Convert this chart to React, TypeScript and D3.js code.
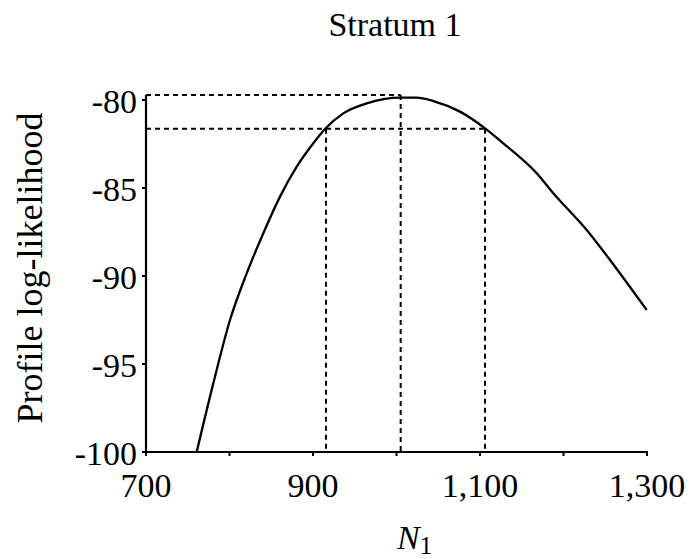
import * as d3 from 'd3'

// profile log-likelihood
const nValues = [760.7, 780.6, 800.6, 820.6, 840.5, 860.5, 880.5, 900.4, 915.2, 936.3, 964.3, 1004.2, 1024.2, 1044.1, 1076, 1106, 1127.9, 1167.9, 1187.8, 1227.8, 1255.7, 1299.6]
const logLik = [-100, -96.1, -92.5, -89.85, -87.57, -85.49, -83.79, -82.46, -81.61, -80.76, -80.19, -79.87, -79.87, -80.06, -80.66, -81.61, -82.46, -84.16, -85.3, -87.39, -89.09, -91.93]

const maxN = 1005
const maxLik = -79.72
const ciLow = 915.6
const ciHigh = 1106
const ciLik = -81.64

const xMajor = [700, 900, 1100, 1300]
const xMinor = [800, 1000, 1200]
const yTicks = [-100, -95, -90, -85, -80]

const W = 692
const H = 559
const FONT = '"Liberation Serif", "Times New Roman", serif'

export default function App() {
  const x = d3.scaleLinear().domain([700, 1300]).range([146, 647])
  const y = d3.scaleLinear().domain([-100, -80]).range([452, 100])
  const fmt = d3.format(',')

  const pts = nValues.map((n, i) => [n, logLik[i]] as [number, number])
  const line = d3.line<[number, number]>()
    .x(d => x(d[0]))
    .y(d => y(d[1]))
    .curve(d3.curveMonotoneX)

  const dash = { stroke: '#000', strokeWidth: 2, strokeDasharray: '5,4', fill: 'none' }
  const x0 = x(700)
  const yBottom = y(-100)

  return (
    <svg width={W} height={H} style={{ position: 'absolute', left: 0, top: 0, background: '#fff' }} fontFamily={FONT}>
      <text x={395} y={36} textAnchor="middle" fontSize={34}>Stratum 1</text>

      {/* reference lines */}
      <line x1={x0} x2={x(maxN)} y1={y(maxLik)} y2={y(maxLik)} {...dash} />
      <line x1={x0} x2={x(ciHigh)} y1={y(ciLik)} y2={y(ciLik)} {...dash} />
      <line x1={x(maxN)} x2={x(maxN)} y1={y(maxLik)} y2={yBottom} {...dash} />
      <line x1={x(ciLow)} x2={x(ciLow)} y1={y(ciLik)} y2={yBottom} {...dash} />
      <line x1={x(ciHigh)} x2={x(ciHigh)} y1={y(ciLik)} y2={yBottom} {...dash} />

      <path d={line(pts) ?? ''} fill="none" stroke="#000" strokeWidth={2.3} />

      {/* axes */}
      <line x1={x0} x2={x0} y1={y(-80) - 5} y2={yBottom + 1} stroke="#000" strokeWidth={2.2} />
      <line x1={x0 - 1} x2={x(1300) + 1} y1={yBottom} y2={yBottom} stroke="#000" strokeWidth={2.2} />

      {yTicks.map(t => (
        <g key={t}>
          <line x1={x0 - 4} x2={x0} y1={y(t)} y2={y(t)} stroke="#000" strokeWidth={2} />
          <text x={137} y={y(t) + 13} textAnchor="end" fontSize={34}>{t}</text>
        </g>
      ))}
      {xMajor.concat(xMinor).map(t => (
        <line key={t} x1={x(t)} x2={x(t)} y1={yBottom} y2={yBottom + 4} stroke="#000" strokeWidth={2} />
      ))}
      {xMajor.map(t => (
        <text key={t} x={x(t)} y={497} textAnchor="middle" fontSize={34}>{fmt(t)}</text>
      ))}

      <text transform={`translate(42,268) rotate(-90)`} textAnchor="middle" fontSize={36}>Profile log-likelihood</text>

      <text x={397} y={549} fontSize={34}>
        <tspan fontStyle="italic">N</tspan>
        <tspan fontSize={25} dy={5}>1</tspan>
      </text>
    </svg>
  )
}
